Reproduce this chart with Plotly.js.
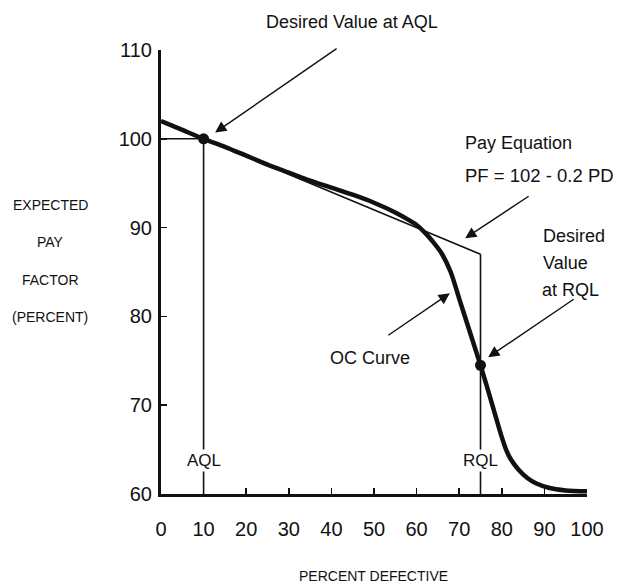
<!DOCTYPE html>
<html>
<head>
<meta charset="utf-8">
<script src="https://cdn.plot.ly/plotly-3.0.1.min.js"></script>
<style>html,body{margin:0;padding:0;background:#fff;}#chart{width:617px;height:585px;}</style>
</head>
<body>
<div id="chart"></div>
<script>
// ---- data ----
var ocX = [0, 5, 10, 15, 20, 25, 30, 35, 40, 45, 50, 55, 58, 60, 62, 64, 66, 68, 70, 72, 74, 75, 77, 79, 80, 81, 82, 84, 86, 88, 91, 95, 100];
var ocY = [102, 101, 100, 99.1, 98.1, 97.1, 96.2, 95.3, 94.5, 93.7, 92.8, 91.7, 90.9, 90.3, 89.4, 88.3, 87.0, 85.0, 82.0, 79.0, 76.0, 74.5, 71.3, 68.0, 66.4, 65.0, 64.0, 62.7, 61.8, 61.2, 60.7, 60.4, 60.3];
var payX = [0, 75];
var payY = [102, 87];
var aqlX = [0, 10, 10];
var aqlY = [100, 100, 60];
var rqlX = [75, 75];
var rqlY = [87, 60];
var dotX = [10, 75];
var dotY = [100, 74.5];
var xTicks = [0, 10, 20, 30, 40, 50, 60, 70, 80, 90, 100];
var yTicks = [60, 70, 80, 90, 100, 110];
var yTitleLines = ["EXPECTED", "PAY", "FACTOR", "(PERCENT)"];

var FONT = '"Liberation Sans", Arial, sans-serif';
var ink = '#111';

var traces = [
  {x: aqlX, y: aqlY, mode: 'lines', line: {color: ink, width: 1.6}, hoverinfo: 'skip'},
  {x: rqlX, y: rqlY, mode: 'lines', line: {color: ink, width: 1.6}, hoverinfo: 'skip'},
  {x: payX, y: payY, mode: 'lines', line: {color: ink, width: 1.6}, hoverinfo: 'skip'},
  {x: ocX, y: ocY, mode: 'lines', line: {color: ink, width: 4.5, shape: 'spline', smoothing: 0.8}, hoverinfo: 'skip'},
  {x: dotX, y: dotY, mode: 'markers', marker: {color: ink, size: 11}, hoverinfo: 'skip'}
];

function txt(x, y, t, opts) {
  var a = {x: x, y: y, xref: 'x', yref: 'y', text: t, showarrow: false,
    font: {family: FONT, size: 18, color: ink}, xanchor: 'center', yanchor: 'middle'};
  for (var k in opts) a[k] = opts[k];
  return a;
}
function arrow(x, y, ax, ay) {
  return {x: x, y: y, xref: 'x', yref: 'y', ax: ax, ay: ay, text: '', showarrow: true,
    arrowhead: 2, arrowsize: 1.6, arrowwidth: 1.4, arrowcolor: ink, standoff: 0};
}

var annotations = [
  txt(44.8, 1.063, 'Desired Value at AQL', {yref: 'paper'}),
  txt(70.9, 99.5, 'Pay Equation', {xanchor: 'left'}),
  txt(70.9, 95.9, 'PF = 102 - 0.2 PD', {xanchor: 'left', font: {family: FONT, size: 18.5, color: ink}}),
  txt(89.3, 89.0, 'Desired', {xanchor: 'left'}),
  txt(89.3, 86.0, 'Value', {xanchor: 'left'}),
  txt(88.9, 83.0, 'at RQL', {xanchor: 'left'}),
  txt(49.1, 75.3, 'OC Curve'),
  txt(10, 63.8, 'AQL', {bgcolor: '#fff', font: {family: FONT, size: 17, color: ink}}),
  txt(75, 63.8, 'RQL', {bgcolor: '#fff', font: {family: FONT, size: 17, color: ink}}),
  arrow(12.7, 100.7, 123, -85),
  arrow(71.4, 88.8, 65, -43),
  arrow(76.8, 75.4, 87, -59),
  arrow(67.8, 82.6, -63, 43),
  {x: 49.8, y: -0.185, xref: 'x', yref: 'paper', text: 'PERCENT DEFECTIVE', showarrow: false,
    font: {family: FONT, size: 14, color: ink}, xanchor: 'center', yanchor: 'middle'}
];
var yTitleY = [92.6, 88.4, 84.1, 79.9];
yTitleLines.forEach(function (s, i) {
  annotations.push({x: -0.26, y: yTitleY[i], xref: 'paper', yref: 'y', text: s, showarrow: false,
    font: {family: FONT, size: 14, color: ink}, xanchor: 'center', yanchor: 'middle'});
});

var layout = {
  width: 617, height: 585,
  margin: {l: 161, r: 30, t: 50, b: 91},
  paper_bgcolor: '#fff', plot_bgcolor: '#fff',
  showlegend: false,
  xaxis: {range: [0, 100], tickvals: xTicks, ticktext: xTicks.map(String), ticks: 'inside', ticklen: 6,
    tickwidth: 1.6, tickcolor: ink, showline: true, linewidth: 3, linecolor: ink, showgrid: false,
    zeroline: false, ticklabelstandoff: 15, tickfont: {family: FONT, size: 20, color: ink}},
  yaxis: {range: [60, 110], tickvals: yTicks, ticktext: yTicks.map(String), ticks: 'inside', ticklen: 6,
    tickwidth: 1.6, tickcolor: ink, showline: true, linewidth: 3, linecolor: ink, showgrid: false,
    zeroline: false, ticklabelstandoff: 2, tickfont: {family: FONT, size: 20, color: ink}},
  annotations: annotations
};

Plotly.newPlot('chart', traces, layout, {displayModeBar: false, staticPlot: true});
</script>
</body>
</html>
